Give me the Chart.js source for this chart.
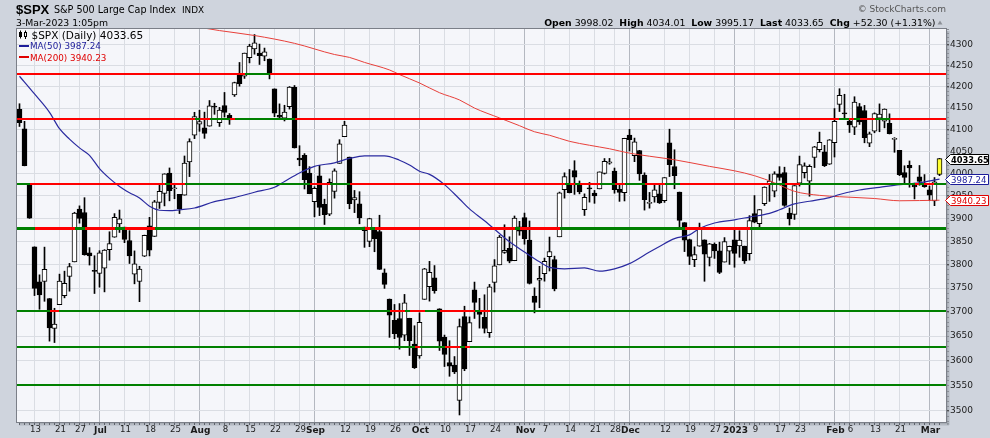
<!DOCTYPE html>
<html><head><meta charset="utf-8">
<script src="https://cdn.jsdelivr.net/npm/chart.js@4.4.0/dist/chart.umd.min.js"></script>
<style>html,body{margin:0;padding:0;background:#cfd4dd;}canvas{display:block;}</style>
</head><body>
<canvas id="c" width="990" height="438"></canvas>
<script>
// ---- DATA (trading days 8-Jun-2022 .. 3-Mar-2023, index 0..184) ----
const opens = [
4147.12,4101.65,3974.39,3838.15,3763.52,3764.05,3728.18,3665.90,3715.31,3733.89,
3774.71,3805.74,3920.76,3913.00,3825.09,3785.99,3781.00,3792.61,3831.98,3858.85,
3888.26,3880.94,3851.95,3779.67,3763.99,3818.00,3883.79,3860.73,3935.32,3955.47,
4000.79,3965.72,3953.22,3951.43,4026.13,4087.33,4112.38,4104.21,4107.96,4154.85,
4115.87,4155.93,4133.11,4181.02,4227.40,4225.02,4269.37,4290.46,4280.40,4273.13,
4266.31,4195.08,4133.09,4126.55,4153.26,4198.74,4034.58,4041.25,4000.67,3936.73,
3994.66,3930.89,3909.43,3959.94,4022.94,4083.67,4037.12,3940.73,3932.41,3880.95,
3849.91,3875.23,3871.40,3782.36,3727.14,3682.72,3686.44,3651.94,3687.01,3633.48,
3609.78,3726.46,3753.25,3771.97,3706.74,3647.51,3595.86,3590.83,3520.37,3690.41,
3638.65,3746.26,3703.11,3689.05,3657.10,3762.01,3799.44,3825.97,3834.69,3808.26,
3881.85,3901.79,3852.90,3733.25,3766.98,3780.71,3817.02,3810.94,3859.89,3963.72,
3977.97,4006.41,3976.82,3919.26,3966.39,3956.23,3965.51,4000.30,4023.34,4005.36,
3964.19,3957.18,4087.14,4040.17,4052.02,3996.63,3933.28,3947.79,3954.17,3939.29,
4069.38,4015.54,3958.37,3890.91,3853.79,3810.47,3839.49,3853.26,3815.11,3843.34,
3829.56,3805.45,3829.06,3853.29,3840.36,3839.74,3823.37,3910.82,3888.57,3932.35,
3976.77,3960.60,3999.28,4002.25,3911.84,3909.04,3978.14,4001.74,3982.71,4036.08,
4053.72,4049.27,4020.85,4070.07,4158.68,4136.69,4119.57,4105.35,4153.47,4144.25,
4068.92,4096.62,4126.70,4119.50,4114.75,4077.39,4052.35,4001.83,4018.60,3973.24,
3992.36,3977.19,3963.34,3938.68,3998.02];
const highs = [
4160.14,4119.10,3974.39,3838.15,3778.18,3837.56,3728.18,3707.71,3779.65,3785.99,
3802.58,3913.65,3927.72,3945.86,3836.50,3818.99,3829.82,3832.19,3870.91,3910.63,
3918.50,3880.94,3873.41,3829.44,3796.41,3863.62,3902.44,3939.81,3974.13,3999.29,
4012.44,3975.30,3953.22,4039.56,4078.95,4140.15,4144.95,4140.47,4167.66,4161.29,
4151.58,4186.62,4137.30,4211.03,4257.91,4280.47,4301.79,4325.28,4302.18,4292.53,
4266.31,4195.08,4159.77,4156.56,4200.54,4203.04,4062.99,4044.98,4015.37,3970.23,
4018.43,3942.55,3987.89,4010.50,4076.81,4119.28,4037.12,3961.94,3959.14,3880.95,
3900.45,3876.01,3907.07,3790.68,3727.14,3715.67,3717.53,3736.74,3687.01,3671.44,
3698.35,3791.92,3806.91,3797.93,3706.74,3652.17,3640.66,3608.34,3685.41,3712.00,
3689.73,3762.79,3728.58,3736.00,3757.89,3810.74,3862.85,3886.15,3859.95,3905.42,
3893.73,3911.79,3894.44,3750.59,3796.34,3813.95,3859.40,3818.20,3958.33,4001.48,
4008.97,4028.84,3983.09,3954.33,3979.89,3962.00,4003.58,4033.78,4034.02,4012.27,
3976.77,4080.11,4100.51,4080.48,4052.45,4001.51,3957.57,3974.19,3977.02,3990.71,
4100.96,4053.76,3958.37,3890.91,3854.86,3838.24,3889.82,3853.26,3845.80,3846.65,
3848.32,3858.19,3839.85,3878.46,3873.16,3839.74,3906.19,3950.57,3919.83,3970.07,
3997.76,4003.95,4015.39,4014.16,3922.94,3972.96,4039.31,4023.92,4019.55,4061.57,
4094.21,4063.85,4077.16,4148.95,4195.44,4182.36,4124.63,4176.54,4160.77,4156.23,
4094.36,4138.90,4159.77,4148.11,4136.54,4081.51,4052.35,4017.37,4028.30,3978.25,
4018.05,3997.50,3971.73,3990.84,4034.01];
const lows = [
4107.20,4017.17,3900.16,3734.30,3705.68,3722.30,3639.77,3636.87,3715.31,3729.51,
3743.52,3805.74,3889.66,3820.14,3799.02,3738.67,3752.10,3742.06,3809.37,3858.85,
3869.34,3847.22,3802.36,3759.07,3721.56,3817.18,3818.63,3860.73,3922.03,3927.64,
3938.85,3943.46,3910.74,3951.43,3992.97,4079.22,4096.02,4079.81,4107.96,4135.42,
4107.31,4128.97,4112.09,4177.26,4201.41,4219.78,4256.90,4277.77,4253.08,4261.98,
4218.70,4129.86,4124.03,4119.97,4147.59,4057.66,4017.42,3965.21,3954.53,3903.65,
3906.21,3886.75,3906.03,3944.81,4022.94,4083.67,3921.27,3912.84,3888.28,3837.08,
3838.50,3827.54,3789.49,3749.45,3647.47,3644.76,3623.29,3640.61,3610.40,3584.13,
3604.93,3726.46,3722.66,3739.22,3620.73,3588.10,3568.45,3573.86,3491.58,3579.68,
3638.65,3686.53,3666.51,3656.44,3647.42,3741.65,3799.44,3824.07,3803.79,3808.26,
3863.18,3843.80,3758.68,3698.15,3708.84,3764.70,3786.28,3744.22,3859.89,3944.82,
3956.40,3953.17,3954.34,3906.54,3935.98,3933.34,3965.51,3998.66,4020.76,3955.77,
3937.65,3938.58,4050.87,4026.63,3984.49,3918.39,3922.68,3935.83,3933.04,3935.30,
3993.03,3965.65,3879.45,3827.91,3800.04,3795.62,3839.49,3764.49,3797.01,3813.22,
3780.78,3805.45,3800.34,3794.33,3815.77,3802.42,3809.56,3890.42,3877.29,3928.54,
3937.56,3947.67,3984.57,3926.59,3885.54,3897.86,3971.64,3989.79,3949.06,4013.29,
4048.70,4015.55,4020.44,4037.20,4141.88,4123.36,4093.38,4088.39,4111.88,4069.67,
4060.79,4092.67,4095.01,4103.98,4089.89,4047.95,3995.19,3976.90,3969.19,3943.08,
3973.55,3968.98,3939.05,3928.16,3995.17];
const closes = [
4115.77,4017.82,3900.86,3749.63,3735.48,3789.99,3666.77,3674.84,3764.79,3759.89,
3795.73,3911.74,3900.11,3821.55,3818.83,3785.38,3825.33,3831.39,3845.08,3902.62,
3899.38,3854.43,3818.80,3801.78,3790.38,3863.16,3830.85,3936.69,3959.90,3998.95,
3961.63,3966.84,3921.05,4023.61,4072.43,4130.29,4118.63,4091.19,4155.17,4151.94,
4145.19,4140.06,4122.47,4210.24,4207.27,4280.15,4297.14,4305.20,4274.04,4283.74,
4228.48,4137.99,4128.73,4140.77,4199.12,4057.66,4030.61,3986.16,3955.00,3966.85,
3924.26,3908.19,3979.87,4006.18,4067.36,4110.41,3932.69,3946.01,3901.35,3873.33,
3899.89,3855.93,3789.93,3757.99,3693.23,3655.04,3647.29,3719.04,3640.47,3585.62,
3678.43,3790.93,3783.28,3744.52,3639.66,3612.39,3588.84,3577.03,3669.91,3583.07,
3677.95,3719.98,3695.16,3665.78,3752.75,3797.34,3859.11,3830.60,3807.30,3901.06,
3871.98,3856.10,3759.69,3719.89,3770.55,3806.80,3828.11,3748.57,3956.37,3992.93,
3957.25,3991.73,3958.79,3946.56,3965.34,3949.94,4003.58,4027.26,4026.12,3963.94,
3957.63,4080.11,4076.57,4071.70,3998.84,3941.26,3933.92,3963.51,3934.38,3990.56,
4019.65,3995.32,3895.75,3852.36,3817.66,3821.62,3878.44,3822.39,3844.82,3829.25,
3783.22,3849.28,3839.50,3824.14,3852.97,3808.10,3895.08,3892.09,3919.25,3969.61,
3983.17,3999.09,3990.97,3928.86,3898.85,3972.61,4019.81,4016.95,4016.22,4060.43,
4070.56,4017.77,4076.60,4119.21,4179.76,4136.48,4111.08,4164.00,4117.86,4081.50,
4090.46,4137.29,4136.13,4147.60,4090.41,4079.09,3997.34,3991.05,4012.32,3970.04,
3982.24,3970.15,3951.39,3981.35,4033.65];

// moving averages (day index -> value)
const ma50Idx = [0,3,6,8,10,12,14,16,18,20,22,24,26,28,30,32,35,39,43,47,51,53,56,59,63,66,69,73,76,78,80,82,85,88,90,93,96,98,101,104,106,109,113,116,119,122,126,128,131,134,136,139,143,146,150,152,155,158,162,164,168,172,176,180,184];
const ma50 = [4225,4183,4140,4102,4078,4058,4041,4011,3989,3971,3957,3945,3927,3918,3917,3919,3923,3937,3946,3958,3969,3982,4001,4016,4024,4034,4040,4040,4030,4019,4005,3998,3975,3943,3921,3895,3867,3849,3827,3806,3794,3791,3793,3786,3791,3802,3827,3839,3856,3864,3878,3890,3897,3903,3911,3919,3932,3938,3946,3953,3963,3969,3975,3979,3987.24];
const ma200Idx = [34,40,47,55,63,66,69,74,76,80,84,88,91,96,100,103,106,110,114,118,122,126,131,138,143,147,151,155,160,164,171,176,184];
const ma200 = [4347,4335,4323,4304,4277,4270,4258,4240,4229,4209,4186,4169,4150,4127,4109,4095,4087,4073,4064,4056,4046,4039,4031,4016,4006,3995,3979,3960,3951,3948,3944,3939,3940.23];

// horizontal price levels
const levels = [4230, 4125, 3977, 3880, 3702, 3628, 3550];

// x-axis labels
const tickIdx = [3,8,12,16,21,26,31,36,41,46,51,56,59,65,70,75,80,85,90,95,101,105,110,115,119,122,129,134,139,143,147,152,156,163,166,171,176,182];
const tickLabels = ['13','21','27','Jul','11','18','25','Aug','8','15','22','29','Sep','12','19','26','Oct','10','17','24','Nov','7','14','21','28','Dec','12','19','27','2023','9','17','23','Feb','6','13','21','Mar'];
const majorLabels = ['Jul','Aug','Sep','Oct','Nov','Dec','2023','Feb','Mar'];
const yTicks = [3500,3550,3600,3650,3700,3750,3800,3850,3900,3950,4000,4050,4100,4150,4200,4250,4300];

// header values
const lastVals = {open:'3998.02', high:'4034.01', low:'3995.17', last:'4033.65', chg:'+52.30 (+1.31%)'};

// ---- STYLE ----
const DJ = '"DejaVu Sans", Verdana, sans-serif';
const GREEN = '#008000', RED = '#ff0000';
const levelWidths = [2,2,2,3,2,2,2];
const N = closes.length;

const wickData = closes.map((c,j)=>({x:j, y:[lows[j], highs[j]]}));
const bodyData = closes.map((c,j)=>({x:j, y:[opens[j], closes[j]]}));
const ma50Data = ma50Idx.map((j,k)=>({x:j, y:ma50[k]}));
const ma200Data = ma200Idx.map((j,k)=>({x:j, y:ma200[k]}));

function isMajor(v){ const k = tickIdx.indexOf(v); return k>=0 && majorLabels.includes(tickLabels[k]); }

const deco = {
  id:'deco',
  beforeDraw(chart){
    const {ctx, chartArea:a} = chart;
    ctx.save();
    ctx.fillStyle = '#cfd4dd'; ctx.fillRect(0,0,chart.width,chart.height);
    ctx.fillStyle = '#f5f6fa'; ctx.fillRect(a.left,a.top,a.right-a.left,a.bottom-a.top);
    ctx.restore();
  },
  afterDatasetsDraw(chart){
    const {ctx, chartArea:a, scales:{x,y}} = chart;
    ctx.save();
    ctx.beginPath(); ctx.rect(a.left, a.top, a.right-a.left, a.bottom-a.top); ctx.clip();
    levels.forEach((lv,k)=>{
      const w = levelWidths[k];
      const py = Math.round(y.getPixelForValue(lv)) + (w%2 ? 0.5 : 0);
      ctx.lineWidth = w;
      for (let j=-1;j<N;j++){
        const c = closes[Math.max(j,0)];
        const x0 = j<0 ? a.left : Math.round(x.getPixelForValue(j));
        const x1 = j+1>=N ? a.right : Math.round(x.getPixelForValue(j+1));
        ctx.strokeStyle = c >= lv ? GREEN : RED;
        ctx.beginPath(); ctx.moveTo(x0,py); ctx.lineTo(x1,py); ctx.stroke();
      }
    });
    ctx.restore();
  },
  afterDraw(chart){
    const {ctx, chartArea:a, scales:{x,y}} = chart;
    ctx.save();
    // plot frame
    ctx.fillStyle = '#7b7f88';
    ctx.fillRect(a.left, a.top, a.right-a.left+1, 1);
    ctx.fillRect(a.left, a.top, 1, a.bottom-a.top+1);
    ctx.fillRect(a.right, a.top, 1, a.bottom-a.top+1);
    ctx.fillRect(a.left, a.bottom, a.right-a.left+1, 1);
    // shadow
    for (let k=0;k<3;k++){
      ctx.fillStyle = 'rgba(70,74,84,'+(0.28-k*0.09)+')';
      ctx.fillRect(a.right+1+k, a.top+3, 1, a.bottom-a.top);
      ctx.fillRect(a.left+3, a.bottom+1+k, a.right-a.left, 1);
    }
    // daily ticks
    ctx.fillStyle = '#5e626b';
    for (let j=0;j<N;j++) ctx.fillRect(Math.floor(x.getPixelForValue(j)), a.bottom+1, 1, 2);
    // minor y ticks
    ctx.fillStyle = '#8a8e96';
    for (let v=3480; v<=4340; v+=10) ctx.fillRect(a.right+1, Math.round(y.getPixelForValue(v)), 2, 1);
    // value tags
    const tag = (v, label, color, bold) => {
      const yc = Math.round(y.getPixelForValue(v)) + 0.5;
      ctx.beginPath();
      ctx.moveTo(a.right-0.5, yc); ctx.lineTo(a.right+4.5, yc-5); ctx.lineTo(988.5, yc-5);
      ctx.lineTo(988.5, yc+5); ctx.lineTo(a.right+4.5, yc+5); ctx.closePath();
      ctx.fillStyle = '#ffffff'; ctx.fill();
      ctx.lineWidth = 1; ctx.strokeStyle = color; ctx.stroke();
      ctx.fillStyle = color; ctx.font = (bold?'bold 8.3px ':'8.6px ') + DJ;
      ctx.textBaseline = 'alphabetic'; ctx.textAlign = 'left';
      ctx.fillText(label, a.right+5, yc+3.3);
    };
    tag(closes[N-1], '4033.65', '#000000', true);
    tag(ma50[ma50.length-1], '3987.24', '#1c1c9a', false);
    tag(ma200[ma200.length-1], '3940.23', '#e00000', false);

    // header
    ctx.textBaseline = 'alphabetic'; ctx.textAlign = 'left';
    ctx.fillStyle = '#000';
    ctx.font = 'bold 13px "Liberation Sans", Arial, sans-serif';
    ctx.fillText('$SPX', 16, 13.5);
    ctx.font = '9.6px ' + DJ;
    ctx.fillText('S&P 500 Large Cap Index', 54, 12.7);
    ctx.font = '8.9px ' + DJ;
    ctx.fillText('INDX', 182, 12.7);
    ctx.font = '9.3px ' + DJ;
    ctx.fillText('3-Mar-2023 1:05pm', 16, 26);
    ctx.fillStyle = '#555';
    ctx.font = '9px ' + DJ;
    ctx.textAlign = 'right';
    ctx.fillText('\u00A9 StockCharts.com', 946, 11.5);
    ctx.textAlign = 'left';
    const runs = [['Open',1],[' '+lastVals.open+'  ',0],['High',1],[' '+lastVals.high+'  ',0],['Low',1],[' '+lastVals.low+'  ',0],['Last',1],[' '+lastVals.last+'  ',0],['Chg',1],[' '+lastVals.chg,0]];
    const fB = 'bold 9.3px ' + DJ, fR = '9.4px ' + DJ;
    let tot = 0;
    runs.forEach(r=>{ ctx.font = r[1]?fB:fR; tot += ctx.measureText(r[0]).width; });
    let px = 935.5 - tot;
    ctx.fillStyle = '#000';
    runs.forEach(r=>{ ctx.font = r[1]?fB:fR; ctx.fillText(r[0], px, 26); px += ctx.measureText(r[0]).width; });
    ctx.fillStyle = '#8c9098';
    ctx.beginPath(); ctx.moveTo(937.5,24.5); ctx.lineTo(942.5,24.5); ctx.lineTo(940,20.5); ctx.closePath(); ctx.fill();

    // legend in plot
    ctx.fillStyle = '#000';
    ctx.fillRect(19,32,3,5); ctx.fillRect(20,30.5,1,8);
    ctx.strokeStyle = '#000'; ctx.lineWidth = 1;
    ctx.strokeRect(24.5,32.5,2,4); ctx.fillRect(25,30.5,1,2); ctx.fillRect(25,37,1,2);
    ctx.font = '10.5px ' + DJ;
    ctx.fillText('$SPX (Daily) 4033.65', 31.5, 38.5);
    ctx.fillStyle = '#1c1c9a'; ctx.fillRect(19,45,10,2);
    ctx.font = '8.8px ' + DJ;
    ctx.fillText('MA(50) 3987.24', 30, 49.2);
    ctx.fillStyle = '#e00000'; ctx.fillRect(19,56,10,2);
    ctx.fillText('MA(200) 3940.23', 30, 60.5);
    ctx.restore();
  }
};

new Chart(document.getElementById('c'), {
  type: 'bar',
  data: {
    datasets: [
      { type:'line', data: ma50Data, borderColor:'#2a2aa0', borderWidth:1.2, pointRadius:0, cubicInterpolationMode:'monotone', order:0, clip:0 },
      { type:'line', data: ma200Data, borderColor:'#e8403a', borderWidth:1, pointRadius:0, cubicInterpolationMode:'monotone', order:0, clip:0 },
      { type:'bar', data: bodyData, barThickness:5, grouped:false, order:1, minBarLength:1,
        borderSkipped:false, borderWidth:1, borderColor:'#000',
        backgroundColor: ctx => { const j = ctx.dataIndex; if (j === N-1) return '#ffff33'; return closes[j] >= opens[j] ? '#ffffff' : '#000000'; } },
      { type:'bar', data: wickData, barThickness:1, grouped:false, order:2, borderWidth:0, borderSkipped:false, backgroundColor:'#000' }
    ]
  },
  options: {
    responsive:false, animation:false, events:[],
    layout:{ padding:{ left:16, top:28, right:0, bottom:0 } },
    plugins:{ legend:{display:false}, tooltip:{enabled:false}, title:{display:false} },
    scales: {
      x: {
        type:'linear', min:-0.7, max:185.3, offset:false, bounds:'data',
        afterBuildTicks: s => { s.ticks = tickIdx.map(v=>({value:v})); },
        afterFit: s => { s.height = 16; },
        border:{display:false},
        grid:{ offset:false, drawTicks:false, color: c => (c.tick && isMajor(c.tick.value)) ? '#b4b8c0' : '#dadde3', lineWidth:1 },
        ticks:{ autoSkip:false, maxRotation:0, padding:3, labelOffset:1, color:'#1a1a1a',
          callback: v => { const k = tickIdx.indexOf(v); return k>=0 ? tickLabels[k] : ''; },
          font: c => (c.tick && isMajor(c.tick.value)) ? {family:DJ, size:9, weight:'bold'} : {family:DJ, size:8.6} }
      },
      y: {
        type:'logarithmic', position:'right', min:3477.8, max:4341.3, bounds:'data', beginAtZero:false, stacked:false,
        afterBuildTicks: s => { s.ticks = yTicks.map(v=>({value:v})); },
        afterFit: s => { s.width = 44; },
        border:{display:false},
        grid:{ color:'#dadde3', lineWidth:1, drawTicks:true, tickLength:3, tickColor:'#555' },
        ticks:{ autoSkip:false, padding:1, color:'#1a1a1a', font:{family:DJ, size:9}, callback: v => String(v) }
      }
    }
  },
  plugins:[deco]
});
</script>
</body></html>
